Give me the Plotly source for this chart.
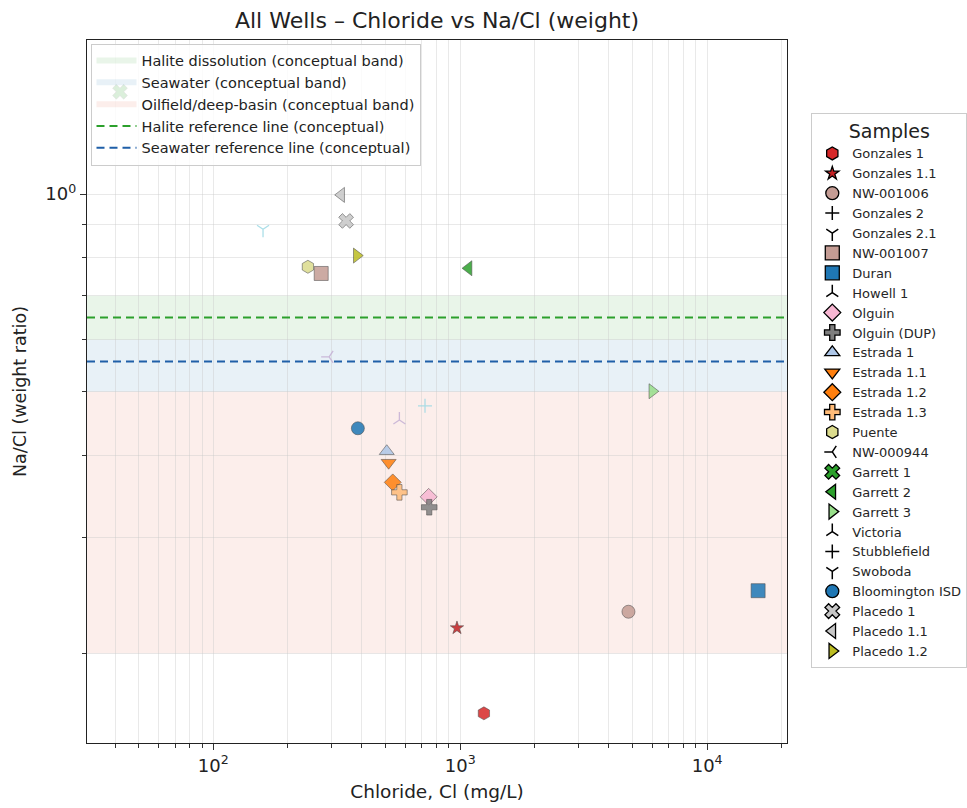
import math
import plotly.graph_objects as go

# ---------------- data ----------------
samples = ["Gonzales 1", "Gonzales 1.1", "NW-001006", "Gonzales 2", "Gonzales 2.1",
           "NW-001007", "Duran", "Howell 1", "Olguin", "Olguin (DUP)", "Estrada 1",
           "Estrada 1.1", "Estrada 1.2", "Estrada 1.3", "Puente", "NW-000944",
           "Garrett 1", "Garrett 2", "Garrett 3", "Victoria", "Stubblefield",
           "Swoboda", "Bloomington ISD", "Placedo 1", "Placedo 1.1", "Placedo 1.2"]
chloride = [1247, 970, 4800, None, None,
            273.5, 16080, None, 745, 749, 504,
            513, 533, 567, 241.6, 294.5,
            41.9, 1081, 5995, 567, 720,
            159, 385, 345, 329.6, 381]
na_cl = [0.162, 0.2185, 0.2313, None, None,
         0.757, 0.249, None, 0.346, 0.3336, 0.406,
         0.39, 0.364, 0.3515, 0.775, 0.565,
         1.431, 0.771, 0.501, 0.453, 0.476,
         0.884, 0.44, 0.91, 0.997, 0.806]
symbols = ["hexagon", "star", "circle", "cross-thin", "y-down",
           "square", "square", "y-up", "diamond", "cross", "triangle-up",
           "triangle-down", "diamond", "cross", "hexagon", "y-left",
           "x", "triangle-left", "triangle-right", "y-up", "cross-thin",
           "y-down", "circle", "x", "triangle-left", "triangle-right"]
colors = ["#d62728", "#c42124", "#c49c94", "#9edae5", "#9edae5",
          "#c49c94", "#1f77b4", "#c5b0d5", "#f7b6d2", "#7f7f7f", "#aec7e8",
          "#ff7f0e", "#ff7f0e", "#ffbb78", "#dbdb8d", "#c5b0d5",
          "#2ca02c", "#2ca02c", "#98df8a", "#c5b0d5", "#9edae5",
          "#9edae5", "#1f77b4", "#c7c7c7", "#c7c7c7", "#bcbd22"]
sizes = [13, 10, 13, 10, 10,
         14, 14, 10, 13, 13, 13,
         13, 13, 13, 13, 10,
         13, 13, 13, 10, 10,
         10, 13, 13, 13, 13]

band_names = ["Halite dissolution (conceptual band)", "Seawater (conceptual band)",
              "Oilfield/deep-basin (conceptual band)"]
band_low = [0.6, 0.5, 0.2]
band_high = [0.7, 0.6, 0.5]
band_colors = ["rgba(44,160,44,0.10)", "rgba(31,119,180,0.10)", "rgba(230,85,60,0.10)"]

ref_names = ["Halite reference line (conceptual)", "Seawater reference line (conceptual)"]
ref_values = [0.6485, 0.5562]
ref_colors = ["#2ca02c", "#1f5fa8"]

x_major = [100, 1000, 10000]
x_major_text = ["10<sup>2</sup>", "10<sup>3</sup>", "10<sup>4</sup>"]
x_minor = [40, 50, 60, 70, 80, 90, 200, 300, 400, 500, 600, 700, 800, 900,
           2000, 3000, 4000, 5000, 6000, 7000, 8000, 9000, 20000]
y_major = [1]
y_major_text = ["10<sup>0</sup>"]
y_minor = [0.2, 0.3, 0.4, 0.5, 0.6, 0.7, 0.8, 0.9]

x_range = [30.8, 21050]
y_range = [0.146, 1.716]

LINE_SYMBOLS = {"cross-thin", "y-down", "y-up", "y-left", "y-right"}

fig = go.Figure()

# bands and reference lines drawn as shapes
for lo, hi, col in zip(band_low, band_high, band_colors):
    fig.add_shape(type="rect", xref="x domain", yref="y", x0=0, x1=1, y0=lo, y1=hi,
                  fillcolor=col, line=dict(width=0), layer="below")
for v, col in zip(ref_values, ref_colors):
    fig.add_shape(type="line", xref="x domain", yref="y", x0=0, x1=1, y0=v, y1=v,
                  line=dict(color=col, width=2, dash="8px,5px"), layer="above")

# legend handles for bands / lines
for name, col in zip(band_names, band_colors):
    fig.add_trace(go.Scatter(x=[None], y=[None], mode="none", fill="toself", fillcolor=col,
                             name=name, legend="legend", showlegend=True))
for name, col in zip(ref_names, ref_colors):
    fig.add_trace(go.Scatter(x=[None], y=[None], mode="lines", name=name, legend="legend",
                             line=dict(color=col, width=2, dash="8px,5px"), showlegend=True))

# sample points
for name, xv, yv, sym, col, sz in zip(samples, chloride, na_cl, symbols, colors, sizes):
    is_line = sym in LINE_SYMBOLS
    if xv is not None:
        if is_line:
            mk = dict(symbol=sym, size=sz, color=col, line=dict(color=col, width=1.3))
        else:
            mk = dict(symbol=sym, size=sz, color=col, line=dict(color="rgba(50,50,50,0.55)", width=1))
        fig.add_trace(go.Scatter(x=[xv], y=[yv], mode="markers", name=name, marker=mk,
                                 opacity=0.85, showlegend=False, legend="legend2",
                                 hoverinfo="name"))
    # legend handle
    if is_line:
        lmk = dict(symbol=sym, size=sz, color="black", line=dict(color="black", width=1.5))
    else:
        lmk = dict(symbol=sym, size=sz, color=col, line=dict(color="black", width=1.3))
    fig.add_trace(go.Scatter(x=[None], y=[None], mode="markers", name=name, marker=lmk,
                             showlegend=True, legend="legend2"))

grid_col = "rgba(200,200,200,0.40)"
font_fam = "DejaVu Sans"

fig.update_layout(
    width=967, height=808,
    margin=dict(l=87, r=180, t=40, b=65, autoexpand=False),
    paper_bgcolor="white", plot_bgcolor="white",
    font=dict(family=font_fam, color="#222222", size=13),
    title=dict(text="All Wells \u2013 Chloride vs Na/Cl (weight)", x=0.5, xref="paper",
               xanchor="center", y=0.975, yanchor="middle",
               font=dict(size=22, color="#222222")),
    xaxis=dict(type="log", range=[math.log10(x_range[0]), math.log10(x_range[1])],
               tickmode="array", tickvals=x_major, ticktext=x_major_text,
               ticks="outside", ticklen=6, tickwidth=1, tickcolor="#333",
               showline=True, linecolor="#222", linewidth=1.3, mirror=True,
               showgrid=True, gridcolor=grid_col, gridwidth=1, zeroline=False,
               tickfont=dict(size=18),
               title=dict(text="Chloride, Cl (mg/L)", font=dict(size=18.5), standoff=10),
               minor=dict(tickmode="array", tickvals=x_minor, ticks="outside", ticklen=4,
                          tickcolor="#333", showgrid=True, gridcolor=grid_col, gridwidth=1)),
    yaxis=dict(type="log", range=[math.log10(y_range[0]), math.log10(y_range[1])],
               tickmode="array", tickvals=y_major, ticktext=y_major_text,
               ticks="outside", ticklen=6, tickwidth=1, tickcolor="#333",
               showline=True, linecolor="#222", linewidth=1.3, mirror=True,
               showgrid=True, gridcolor=grid_col, gridwidth=1, zeroline=False,
               tickfont=dict(size=18),
               title=dict(text="Na/Cl (weight ratio)", font=dict(size=17.5), standoff=14),
               minor=dict(tickmode="array", tickvals=y_minor, ticks="outside", ticklen=4,
                          tickcolor="#333", showgrid=True, gridcolor=grid_col, gridwidth=1)),
    legend=dict(x=0.005, y=0.995, xanchor="left", yanchor="top",
                bgcolor="rgba(255,255,255,0.8)", bordercolor="#cccccc", borderwidth=1,
                font=dict(size=14.5, color="#222222"), tracegroupgap=0, itemwidth=40),
    legend2=dict(x=1.0347, y=0.8965, xanchor="left", yanchor="top",
                 bgcolor="white", bordercolor="#cccccc", borderwidth=1,
                 font=dict(size=13, color="#262626"),
                 title=dict(text="Samples", side="top center", font=dict(size=19, color="#222222"))),
)

fig.write_html("out.html")
